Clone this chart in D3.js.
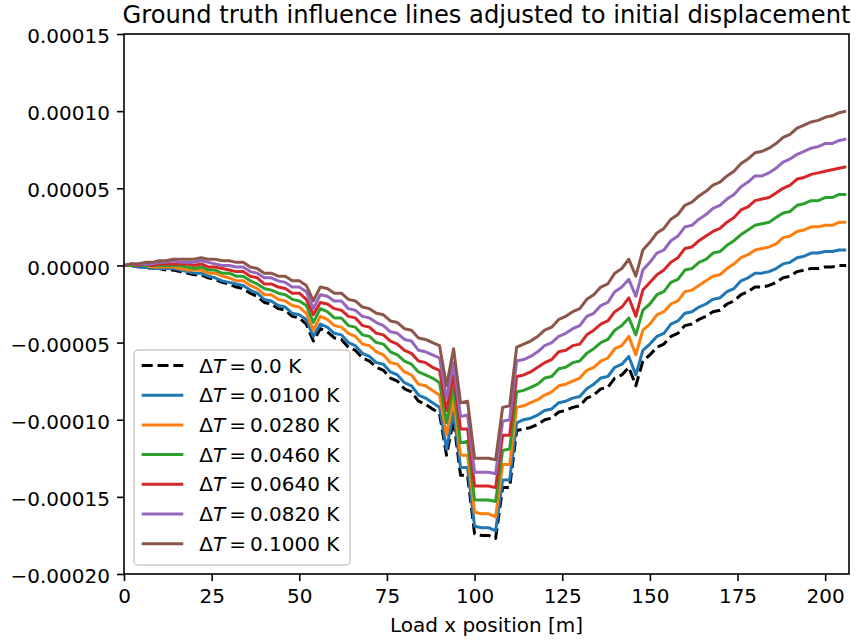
<!DOCTYPE html>
<html>
<head>
<meta charset="utf-8">
<script src="https://d3js.org/d3.v7.min.js"></script>
<style>
  body { margin: 0; background: #fff; }
  svg text { font-family: "DejaVu Sans", sans-serif; fill: #000; }
</style>
</head>
<body>
<svg width="857" height="640"></svg>
<script>
// load positions along the bridge [m]
var loadX = [0,2,4,6,8,10,12,14,16,18,20,22,24,26,28,30,32,34,36,38,40,42,44,46,48,50,
  52,54,56,58,60,62,64,66,68,70,72,74,76,78,80,82,84,86,88,90,92,94,96,98,100,102,
  104,106,108,110,112,114,116,118,120,122,124,126,128,130,132,134,136,138,140,142,
  144,146,148,150,152,154,156,158,160,162,164,166,168,170,172,174,176,178,180,182,
  184,186,188,190,192,194,196,198,200,202,204,206];

// influence line values, in units of 1e-6
var dT0000 = [0,0,-1,-1,-2,-2,-3,-3,-4,-5, -6,-6,-8,-9,-11,-12,-14,-15,-18,-20,
  -24,-25,-28,-29,-33,-34,-38,-49,-41,-43, -47,-48,-53,-55,-60,-62,-66,-68,-73,-75,
  -80,-82,-88,-90,-93,-96,-123,-100,-136,-136, -174,-175,-175,-177,-144,-144,-107,-106,-105,-103,
  -100,-99,-95,-94,-92,-91,-86,-84,-80,-79, -73,-71,-66,-78,-62,-58,-53,-51,-46,-44,
  -39,-38,-35,-33,-30,-29,-25,-23,-19,-17, -14,-14,-13,-11,-8,-7,-4,-3,-2,-2, -1,-1,0,0];
var dT0100 = [0,0,-1,-1,-2,-2,-2,-2,-3,-4, -5,-5,-7,-8,-10,-11,-12,-13,-16,-18,
  -22,-23,-26,-27,-31,-32,-35,-46,-38,-40, -44,-45,-50,-52,-57,-59,-63,-64,-69,-71,
  -76,-78,-84,-86,-89,-92,-119,-95,-131,-131, -169,-170,-170,-172,-139,-139,-102,-100,-99,-97,
  -94,-93,-89,-88,-86,-85,-80,-77,-73,-72, -66,-64,-59,-71,-55,-51,-46,-44,-38,-36,
  -31,-30,-27,-25,-22,-21,-17,-15,-10,-8, -5,-5,-4,-2,1,2,5,6,8,8, 9,9,10,10];
var dT0280 = [0,0,0,0,-1,-1,-1,-1,-2,-3, -3,-3,-5,-5,-7,-8,-10,-10,-13,-15,
  -19,-19,-22,-23,-26,-27,-31,-42,-33,-35, -39,-40,-44,-46,-51,-52,-56,-58,-63,-64,
  -69,-71,-77,-78,-81,-84,-110,-87,-123,-123, -160,-161,-161,-163,-129,-129,-92,-91,-89,-87,
  -84,-82,-78,-77,-75,-73,-68,-66,-62,-60, -54,-52,-46,-58,-42,-38,-32,-30,-25,-23,
  -17,-16,-13,-10,-7,-6,-2,1,5,7, 10,11,12,14,18,19,22,23,25,25, 26,26,28,28];
var dT0460 = [0,0,0,0,0,0,0,0,0,-1, -2,-1,-3,-3,-5,-5,-7,-7,-10,-12,
  -15,-16,-18,-19,-22,-23,-26,-37,-28,-30, -34,-34,-39,-40,-45,-46,-50,-51,-56,-58,
  -62,-64,-69,-71,-73,-76,-102,-79,-115,-114, -152,-152,-152,-153,-120,-119,-82,-81,-79,-77,
  -73,-72,-67,-66,-63,-62,-57,-54,-50,-48, -42,-39,-34,-45,-29,-25,-19,-17,-11,-9,
  -3,-2,2,4,8,9,13,16,20,23, 26,27,28,31,34,35,39,40,42,42, 44,44,46,46];
var dT0640 = [0,1,0,1,0,1,1,1,1,1, 0,1,-1,-1,-2,-3,-4,-4,-7,-8,
  -12,-12,-14,-15,-18,-18,-22,-32,-24,-25, -28,-29,-33,-34,-39,-40,-44,-45,-49,-51,
  -55,-57,-62,-63,-66,-68,-94,-71,-106,-106, -143,-143,-143,-144,-110,-110,-72,-71,-69,-66,
  -63,-61,-56,-55,-52,-51,-45,-42,-38,-36, -30,-27,-21,-33,-16,-11,-6,-3,2,5,
  11,12,16,19,22,24,28,31,36,38, 42,43,44,47,50,52,56,57,59,60, 61,62,63,64];
var dT0820 = [0,1,1,1,1,2,2,3,2,2, 2,3,2,1,0,0,-1,-1,-4,-5,
  -8,-8,-10,-11,-14,-14,-17,-28,-19,-20, -23,-23,-28,-29,-33,-34,-37,-39,-43,-44,
  -48,-49,-55,-56,-58,-60,-86,-63,-98,-97, -134,-134,-134,-135,-101,-100,-62,-61,-59,-56,
  -52,-50,-46,-44,-41,-39,-33,-31,-26,-24, -17,-14,-9,-20,-3,2,8,10,16,19,
  25,26,30,33,37,39,43,46,51,54, 58,58,60,63,67,69,72,74,76,77, 79,79,81,82];
var dT1000 = [0,1,1,2,2,3,3,4,4,4, 4,5,4,4,3,3,2,2,-1,-2,
  -5,-5,-7,-7,-10,-10,-13,-23,-14,-15, -18,-18,-22,-23,-27,-28,-31,-32,-36,-37,
  -41,-42,-47,-48,-50,-52,-78,-54,-89,-88, -125,-125,-125,-126,-92,-91,-53,-51,-49,-46,
  -42,-40,-35,-33,-30,-28,-22,-19,-14,-12, -5,-2,4,-7,10,15,21,24,30,33,
  39,41,45,48,52,54,58,61,66,69, 73,74,76,79,83,85,89,91,93,94, 96,97,99,100];

var deltaLabels = ["0.0", "0.0100", "0.0280", "0.0460", "0.0640", "0.0820", "0.1000"];
var lineColors = ["#000000", "#1f77b4", "#ff7f0e", "#2ca02c", "#d62728", "#9467bd", "#8c564b"];
var xTicks = [0, 25, 50, 75, 100, 125, 150, 175, 200];
var yTicks = [-0.0002, -0.00015, -0.0001, -0.00005, 0, 0.00005, 0.0001, 0.00015];

var allSeries = [dT0000, dT0100, dT0280, dT0460, dT0640, dT0820, dT1000];

var svg = d3.select("svg"),
    plotL = 124, plotT = 34, plotR = 849, plotB = 574,
    fs = 20;

var x = d3.scaleLinear().domain([0, 206.8]).range([plotL, plotR]);
var y = d3.scaleLinear().domain([-0.0002, 0.00015]).range([plotB, plotT]);

svg.append("defs").append("clipPath").attr("id", "plotclip")
   .append("rect").attr("x", plotL).attr("y", plotT)
   .attr("width", plotR - plotL).attr("height", plotB - plotT);

// lines
var line = d3.line()
    .x(function(d, i) { return x(loadX[i]); })
    .y(function(d) { return y(d * 1e-6); });

var lines = svg.append("g").attr("clip-path", "url(#plotclip)");
allSeries.forEach(function(s, k) {
  lines.append("path")
     .attr("d", line(s))
     .attr("fill", "none")
     .attr("stroke", lineColors[k])
     .attr("stroke-width", 3)
     .attr("stroke-linejoin", "round")
     .attr("stroke-linecap", "butt")
     .attr("stroke-dasharray", k == 0 ? "11,4.8" : null);
});

// axes
var xAxis = svg.append("g")
   .attr("transform", "translate(0," + plotB + ")")
   .call(d3.axisBottom(x).tickValues(xTicks).tickSize(7).tickPadding(7).tickFormat(d3.format("d")));
var yAxis = svg.append("g")
   .attr("transform", "translate(" + plotL + ",0)")
   .call(d3.axisLeft(y).tickValues(yTicks).tickSize(7).tickPadding(7)
     .tickFormat(function(d) { return d3.format(".5f")(d).replace("-", "\u2212"); }));

[xAxis, yAxis].forEach(function(a) {
  a.select(".domain").remove();
  a.selectAll(".tick line").attr("stroke", "#000").attr("stroke-width", 1.6);
  a.selectAll(".tick text").attr("font-size", fs + "px")
   .attr("font-family", "DejaVu Sans").attr("fill", "#000");
});
xAxis.selectAll(".tick text").attr("y", null).attr("dy", null)
   .attr("transform", "translate(0,29)");
yAxis.selectAll(".tick text").attr("dy", "0.43em");

// frame
svg.append("rect")
   .attr("x", plotL).attr("y", plotT)
   .attr("width", plotR - plotL).attr("height", plotB - plotT)
   .attr("fill", "none").attr("stroke", "#000").attr("stroke-width", 1.6);

// title + x label
svg.append("text")
   .attr("x", (plotL + plotR) / 2).attr("y", 22.7)
   .attr("text-anchor", "middle").attr("font-size", "24.2px")
   .text("Ground truth influence lines adjusted to initial displacement");
svg.append("text")
   .attr("x", (plotL + plotR) / 2).attr("y", 632)
   .attr("text-anchor", "middle").attr("font-size", fs + "px")
   .text("Load x position [m]");

// legend
var leg = svg.append("g");
leg.append("rect")
   .attr("x", 134).attr("y", 350).attr("width", 216).attr("height", 215).attr("rx", 4)
   .attr("fill", "#fff").attr("fill-opacity", 0.8)
   .attr("stroke", "#cccccc").attr("stroke-width", 1.5);

deltaLabels.forEach(function(lab, k) {
  var cy = 365.5 + k * 29.7;
  leg.append("line")
     .attr("x1", 141.7).attr("x2", 183.3).attr("y1", cy).attr("y2", cy)
     .attr("stroke", lineColors[k]).attr("stroke-width", 3)
     .attr("stroke-dasharray", k == 0 ? "11,4.8" : null);
  var t = leg.append("text")
     .attr("x", 199.3).attr("y", cy + 7).attr("font-size", fs + "px");
  t.append("tspan").text("\u0394");
  t.append("tspan").attr("font-style", "italic").text("T");
  t.append("tspan").attr("dx", "0.2em").text("=");
  t.append("tspan").attr("dx", "0.2em").text(lab + " K");
});
</script>
</body>
</html>
